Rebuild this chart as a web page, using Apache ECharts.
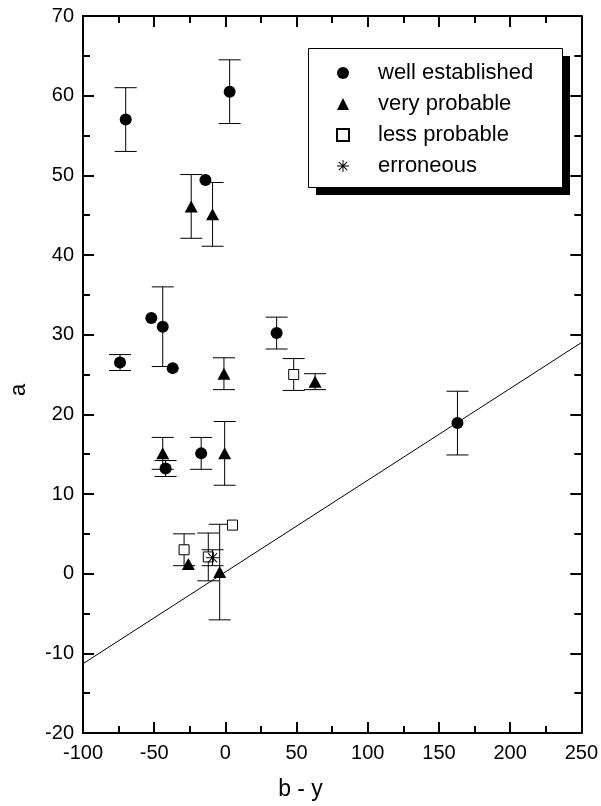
<!DOCTYPE html>
<html>
<head>
<meta charset="utf-8">
<title>a vs b - y</title>
<script src="https://cdn.jsdelivr.net/npm/echarts@6/dist/echarts.min.js"></script>
<style>
    html, body { margin: 0; padding: 0; background: #fff; }
    #chart { width: 601px; height: 806px; }
</style>
</head>
<body>
<div id="chart"></div>
<script>
// values: [x, y, error]
var wellX   = [-70, 3, -14, -74, -52, -44, -37, 36, -42, -17, 163];
var wellY   = [57, 60.5, 49.4, 26.5, 32.1, 31, 25.8, 30.2, 13.2, 15.1, 18.9];
var wellErr = [4, 4, 0, 1, 0, 5, 0, 2, 1, 2, 4];

var veryX   = [-24, -9, -1, 63, -44, -0.5, -26, -4];
var veryY   = [46.1, 45.1, 25.1, 24.1, 15.1, 15.1, 1.2, 0.2];
var veryErr = [4, 4, 2, 1, 2, 4, 0, 6];

var lessX   = [-29, -12, 5, 48];
var lessY   = [3, 2.1, 6.1, 25];
var lessErr = [2, 3, 0, 2];

var errX    = [-9];
var errY    = [2];
var errErr  = [1];

// straight line end points
var lineX = [-100, 250];
var lineY = [-11.3, 29.0];

var xTicks = { min: -100, max: 250, interval: 50 };
var yTicks = { min: -20, max: 70, interval: 10 };

var FONT = "'Liberation Sans', Arial, Helvetica, sans-serif";

// asterisk with 8 spokes
var starPath = 'path://M0 46L100 46L100 54L0 54Z M46 0L54 0L54 100L46 100Z ' +
    'M12.2 17.8L17.8 12.2L87.8 82.2L82.2 87.8Z M82.2 12.2L87.8 17.8L17.8 87.8L12.2 82.2Z';

function pts(xs, ys) {
    return xs.map(function(x, i) { return [x, ys[i]]; });
}

function bars(xs, ys, es) {
    var out = [];
    xs.forEach(function(x, i) {
        if (es[i] > 0) out.push([x, ys[i], es[i]]);
    });
    return out;
}

function errorBars(data) {
    return {
        type: 'custom',
        silent: true,
        z: 1,
        data: data,
        renderItem: function(params, api) {
            var x = api.value(0), y = api.value(1), e = api.value(2);
            var lo = api.coord([x, y - e]);
            var hi = api.coord([x, y + e]);
            var w = 11;
            var st = { stroke: '#000', lineWidth: 1 };
            return {
                type: 'group',
                children: [
                    { type: 'line', shape: { x1: lo[0], y1: lo[1], x2: hi[0], y2: hi[1] }, style: st },
                    { type: 'line', shape: { x1: lo[0] - w, y1: lo[1], x2: lo[0] + w, y2: lo[1] }, style: st },
                    { type: 'line', shape: { x1: hi[0] - w, y1: hi[1], x2: hi[0] + w, y2: hi[1] }, style: st }
                ]
            };
        }
    };
}

function axisX(pos, labels) {
    return {
        type: 'value',
        position: pos,
        min: xTicks.min,
        max: xTicks.max,
        interval: xTicks.interval,
        splitLine: { show: false },
        axisLine: { onZero: false, lineStyle: { color: '#000', width: 2 } },
        axisTick: { inside: true, length: 11, lineStyle: { color: '#000', width: 2 } },
        minorTick: { show: true, splitNumber: 2, length: 7, lineStyle: { color: '#000', width: 2 } },
        axisLabel: { show: labels, color: '#000', fontSize: 20, fontFamily: FONT, margin: 10 }
    };
}

function axisY(pos, labels) {
    return {
        type: 'value',
        position: pos,
        min: yTicks.min,
        max: yTicks.max,
        interval: yTicks.interval,
        splitLine: { show: false },
        axisLine: { onZero: false, lineStyle: { color: '#000', width: 2 } },
        axisTick: { inside: true, length: 11, lineStyle: { color: '#000', width: 2 } },
        minorTick: { show: true, splitNumber: 2, length: 7, lineStyle: { color: '#000', width: 2 } },
        axisLabel: { show: labels, color: '#000', fontSize: 20, fontFamily: FONT, margin: 9 }
    };
}

var chart = echarts.init(document.getElementById('chart'), null, { renderer: 'canvas' });

chart.setOption({
    animation: false,
    backgroundColor: '#fff',
    textStyle: { fontFamily: FONT },
    grid: { left: 83, right: 18, top: 16, bottom: 73 },
    xAxis: [axisX('bottom', true), axisX('top', false)],
    yAxis: [axisY('left', true), axisY('right', false)],
    legend: {
        data: ['well established', 'very probable', 'less probable', 'erroneous'],
        orient: 'vertical',
        left: 308,
        top: 48,
        z: 10,
        padding: [14, 30, 10, 28],
        itemWidth: 12,
        itemHeight: 12,
        itemGap: 9,
        selectedMode: false,
        textStyle: { color: '#000', fontSize: 22, fontFamily: FONT, lineHeight: 22, padding: [0, 0, 0, 24] }
    },
    graphic: [
        // legend frame with its drop shadow
        { type: 'rect', z: 8, shape: { x: 316, y: 56, width: 254, height: 139 }, style: { fill: '#000' } },
        { type: 'rect', z: 9, shape: { x: 308.5, y: 48.5, width: 254, height: 139 }, style: { fill: '#fff', stroke: '#000', lineWidth: 1 } },
        { type: 'text', left: 'center', top: 778, style: { text: 'b - y', font: '23px ' + FONT, fill: '#000' } },
        { type: 'text', x: 8, y: 390, rotation: Math.PI / 2, style: { text: 'a', font: '22px ' + FONT, fill: '#000', align: 'center', verticalAlign: 'top' } }
    ],
    series: [
        {
            type: 'line',
            data: pts(lineX, lineY),
            symbol: 'none',
            silent: true,
            z: 1,
            lineStyle: { color: '#000', width: 1 }
        },
        errorBars(bars(wellX, wellY, wellErr)),
        errorBars(bars(veryX, veryY, veryErr)),
        errorBars(bars(lessX, lessY, lessErr)),
        errorBars(bars(errX, errY, errErr)),
        {
            name: 'well established',
            type: 'scatter',
            data: pts(wellX, wellY),
            symbol: 'circle',
            symbolSize: 12,
            z: 3,
            itemStyle: { color: '#000', opacity: 1 }
        },
        {
            name: 'very probable',
            type: 'scatter',
            data: pts(veryX, veryY),
            symbol: 'triangle',
            symbolSize: [13, 12],
            z: 3,
            itemStyle: { color: '#000', opacity: 1 }
        },
        {
            name: 'less probable',
            type: 'scatter',
            data: pts(lessX, lessY),
            symbol: 'rect',
            symbolSize: 10,
            z: 3,
            itemStyle: { color: '#fff', borderColor: '#000', borderWidth: 1, opacity: 1 }
        },
        {
            name: 'erroneous',
            type: 'scatter',
            data: pts(errX, errY),
            symbol: starPath,
            symbolSize: 13,
            z: 4,
            itemStyle: { color: '#000', opacity: 1 }
        }
    ]
});
</script>
</body>
</html>
